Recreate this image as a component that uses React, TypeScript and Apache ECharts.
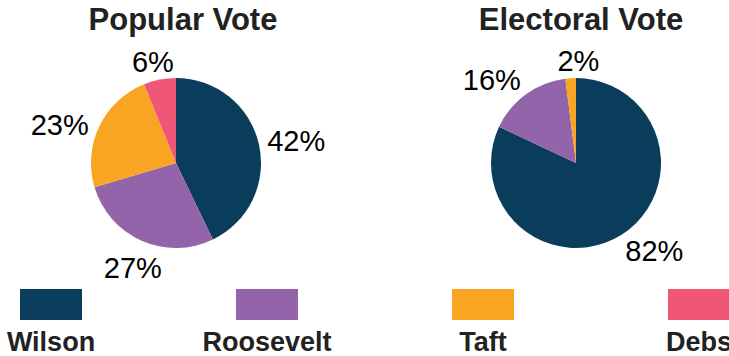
import React, { useEffect, useRef } from "react";
import * as echarts from "echarts";

const categories = ["Wilson", "Roosevelt", "Taft", "Debs"];
const colors = ["#0a3d5c", "#9364a9", "#f8a523", "#f05777"];
const popularVote = [42, 27, 23, 6];
const electoralVote = [82, 16, 2];
const titles = ["Popular Vote", "Electoral Vote"];

const W = 729;
const H = 356;
const R = 85;
const centers: [number, number][] = [
  [176, 163],
  [576, 163],
];
const seriesValues = [popularVote, electoralVote];
// small per-label nudges (style only) to mimic the reference's label placement
const labelNudges: [number, number][][] = [
  [[0, -1], [10, 7], [-3, 5], [0, 0]],
  [[8, -2], [-7, 0], [10, 0]],
];

export default function App() {
  const ref = useRef<HTMLDivElement>(null);
  useEffect(() => {
    if (!ref.current) return;
    const chart = echarts.init(ref.current, undefined, { renderer: "svg" });
    const font = "'Liberation Sans', Arial, sans-serif";

    const labelLayout = (params: any) => {
      const vals = seriesValues[params.seriesIndex];
      const idx = params.dataIndex;
      const total = vals.reduce((a, b) => a + b, 0);
      let cum = 0;
      for (let i = 0; i < idx; i++) cum += vals[i];
      const mid = ((cum + vals[idx] / 2) / total) * Math.PI * 2;
      const s = Math.sin(mid);
      const c = Math.cos(mid);
      const [cx, cy] = centers[params.seriesIndex];
      const d = R * 1.1;
      const ax = cx + d * s;
      const ay = cy - d * c;
      const w = params.labelRect.width;
      const h = params.labelRect.height;
      const clamp = (v: number) => Math.max(-1, Math.min(1, v));
      const nudge = labelNudges[params.seriesIndex][idx] || [0, 0];
      const bx = ax + (w / 2) * clamp(1.3 * s) + nudge[0];
      const by = ay - 14 * clamp(0.8 * c) + 2 + nudge[1];
      return { x: bx, y: by, align: "center", verticalAlign: "middle" };
    };

    const makeSeries = (i: number) => ({
      type: "pie",
      center: centers[i],
      radius: R,
      startAngle: 90,
      clockwise: true,
      silent: true,
      data: seriesValues[i].map((v, j) => ({
        name: categories[j],
        value: v,
        itemStyle: { color: colors[j] },
      })),
      label: {
        show: true,
        position: "outside",
        formatter: "{c}%",
        fontSize: 29,
        fontFamily: font,
        color: "#000",
      },
      labelLine: { show: false, length: 8, length2: 0 },
      labelLayout,
    });

    const legendSpacing = 216;
    const legendStart = 51;
    const graphic: any[] = [];
    categories.forEach((name, i) => {
      const x = legendStart + i * legendSpacing;
      graphic.push({
        type: "rect",
        shape: { x: x - 31, y: 289, width: 62, height: 31 },
        style: { fill: colors[i] },
      });
      graphic.push({
        type: "text",
        x,
        y: 342,
        style: {
          text: name,
          font: `bold 27px ${font}`,
          fill: "#222",
          textAlign: "center",
          textVerticalAlign: "middle",
        },
      });
    });

    chart.setOption({
      animation: false,
      title: titles.map((t, i) => ({
        text: t,
        left: centers[i][0] + (i === 0 ? 2 : 0),
        top: -1,
        textAlign: "center",
        textStyle: {
          fontSize: 31,
          fontWeight: "bold",
          fontFamily: font,
          color: "#222",
        },
      })),
      series: [makeSeries(0), makeSeries(1)],
      graphic,
    });
    return () => chart.dispose();
  }, []);
  return (
    <div
      ref={ref}
      style={{ position: "absolute", left: 0, top: 0, width: W, height: H }}
    />
  );
}
